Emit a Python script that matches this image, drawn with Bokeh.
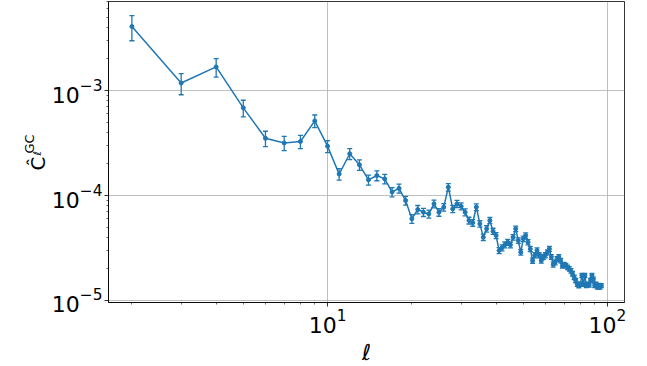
import math
from bokeh.plotting import figure
from bokeh.layouts import row
from bokeh.models import ColumnDataSource, Whisker, TeeHead, Label, FixedTicker, LogTickFormatter, Range1d
from bokeh.embed import file_html
from bokeh.resources import INLINE

# multipole ell
ells = list(range(2, 96))

# estimated C_ell^GC values
cl = [
    4.07e-3, 1.18e-3, 1.68e-3, 6.84e-4, 3.51e-4, 3.17e-4, 3.27e-4, 5.14e-4, 2.95e-4, 1.60e-4,   # 2-11
    2.50e-4, 1.96e-4, 1.41e-4, 1.55e-4, 1.44e-4, 1.08e-4, 1.17e-4, 8.96e-5, 6.00e-5, 7.36e-5,   # 12-21
    6.93e-5, 6.68e-5, 8.34e-5, 6.93e-5, 7.75e-5, 1.20e-4, 7.46e-5, 8.34e-5, 7.90e-5, 6.93e-5,   # 22-31
    5.78e-5, 5.50e-5, 7.75e-5, 5.37e-5, 4.01e-5, 4.82e-5, 5.78e-5, 4.57e-5, 4.16e-5, 2.99e-5,   # 32-41
    3.18e-5, 3.39e-5, 3.59e-5, 3.39e-5, 4.00e-5, 4.82e-5, 3.73e-5, 2.88e-5, 3.87e-5, 4.16e-5,   # 42-51
    3.59e-5, 3.10e-5, 2.40e-5, 2.70e-5, 3.00e-5, 2.70e-5, 2.40e-5, 2.60e-5, 2.70e-5, 2.88e-5,   # 52-61
    3.10e-5, 2.60e-5, 2.20e-5, 2.30e-5, 2.49e-5, 2.60e-5, 2.40e-5, 2.15e-5, 2.20e-5, 2.15e-5,   # 62-71
    2.07e-5, 2.00e-5, 1.92e-5, 1.80e-5, 1.66e-5, 1.55e-5, 1.43e-5, 1.39e-5, 1.43e-5, 1.73e-5,   # 72-81
    1.43e-5, 1.73e-5, 1.39e-5, 1.43e-5, 1.41e-5, 1.55e-5, 1.73e-5, 1.60e-5, 1.39e-5, 1.43e-5,   # 82-91
    1.34e-5, 1.39e-5, 1.34e-5, 1.39e-5,                                                         # 92-95
]

# estimated relative error-bar half-lengths
rel_err = [
    0.268, 0.227, 0.200, 0.181, 0.166, 0.155, 0.146, 0.138, 0.131, 0.125,
    0.120, 0.115, 0.111, 0.108, 0.104, 0.101, 0.099, 0.096, 0.094, 0.091,
    0.089, 0.087, 0.085, 0.084, 0.082, 0.081, 0.079, 0.078, 0.077, 0.076,
    0.074, 0.073, 0.072, 0.071, 0.070, 0.069, 0.068, 0.067, 0.067, 0.066,
    0.065, 0.064, 0.064, 0.063, 0.062, 0.061, 0.061, 0.060, 0.060, 0.059,
    0.058, 0.058, 0.057, 0.057, 0.056, 0.056, 0.055, 0.055, 0.055, 0.054,
    0.054, 0.053, 0.053, 0.052, 0.052, 0.052, 0.051, 0.051, 0.050, 0.050,
    0.050, 0.049, 0.049, 0.049, 0.048, 0.048, 0.048, 0.048, 0.047, 0.047,
    0.047, 0.046, 0.046, 0.046, 0.046, 0.045, 0.045, 0.045, 0.045, 0.044,
    0.044, 0.044, 0.044, 0.043,
]

# axis ticks
x_major = [10, 100]
x_minor = [2, 3, 4, 5, 6, 7, 8, 9, 20, 30, 40, 50, 60, 70, 80, 90]
y_major = [1e-5, 1e-4, 1e-3]
y_minor = [m * 1e-6 for m in range(2, 10)] + [m * 1e-5 for m in range(2, 10)] + \
          [m * 1e-4 for m in range(2, 10)] + [m * 1e-3 for m in range(2, 10)]

x_label = "ℓ"
y_label_main = "Ĉ"
y_label_sup = "GC"
y_label_sub = "ℓ"

BLUE = "#1f77b4"
FONT = "DejaVu Sans"
LABEL_W = 48

upper = [c * (1 + r) for c, r in zip(cl, rel_err)]
lower = [c * (1 - r) for c, r in zip(cl, rel_err)]
src = ColumnDataSource(dict(x=ells, y=cl, upper=upper, lower=lower))

p = figure(
    x_axis_type="log", y_axis_type="log",
    x_range=(1.65, 115), y_range=(9.57e-6, 7.05e-3),
    frame_width=516, frame_height=301,
    min_border_left=107 - LABEL_W, min_border_top=1, min_border_right=24, min_border_bottom=0,
    output_backend="svg", toolbar_location=None,
)
p.background_fill_color = "white"
p.border_fill_color = "white"
p.outline_line_color = "black"
p.outline_line_width = 0.8
p.outline_line_alpha = 1.0

p.xaxis.ticker = FixedTicker(ticks=x_major, minor_ticks=x_minor)
p.yaxis.ticker = FixedTicker(ticks=y_major, minor_ticks=y_minor)
p.xaxis.formatter = LogTickFormatter()
p.yaxis.formatter = LogTickFormatter()

for ax in (p.xaxis[0], p.yaxis[0]):
    ax.axis_line_color = "black"
    ax.axis_line_width = 0.8
    ax.major_tick_line_color = "black"
    ax.major_tick_line_width = 0.8
    ax.minor_tick_line_color = "black"
    ax.minor_tick_line_width = 0.6
    ax.major_tick_in = 0
    ax.major_tick_out = 4
    ax.minor_tick_in = 0
    ax.minor_tick_out = 2
    ax.major_label_text_font = FONT
    ax.major_label_text_font_size = "22px"
    ax.major_label_text_color = "black"
    ax.major_label_standoff = 2

p.xaxis.axis_label = x_label
p.xaxis.axis_label_text_font = FONT
p.xaxis.axis_label_text_font_size = "22px"
p.xaxis.axis_label_text_font_style = "italic"
p.xaxis.axis_label_text_color = "black"
p.xaxis.axis_label_standoff = 4

for g in (p.xgrid[0], p.ygrid[0]):
    g.grid_line_color = "#b0b0b0"
    g.grid_line_width = 0.8

p.line("x", "y", source=src, line_color=BLUE, line_width=1.5)
p.scatter("x", "y", source=src, size=4, color=BLUE)
w = Whisker(
    source=src, base="x", upper="upper", lower="lower",
    line_color=BLUE, line_width=1.3,
    upper_head=TeeHead(size=5, line_color=BLUE, line_width=1.3),
    lower_head=TeeHead(size=5, line_color=BLUE, line_width=1.3),
)
p.add_layout(w)

# narrow strip on the left that carries the y-axis label (rotated pieces, canvas pixels)
lab = figure(
    width=LABEL_W, height=302, x_range=Range1d(0, LABEL_W), y_range=Range1d(302, 0),
    x_axis_location=None, y_axis_location=None,
    min_border=0, min_border_left=0, min_border_right=0, min_border_top=0, min_border_bottom=0,
    output_backend="svg", toolbar_location=None,
)
lab.outline_line_color = None
lab.grid.visible = False
lab.background_fill_color = "white"
lab.border_fill_color = "white"

lab.add_layout(Label(x=37, y=170, x_units="canvas", y_units="canvas", text=y_label_main,
                     angle=math.pi / 2, text_font=FONT, text_font_size="20px",
                     text_color="black", text_align="left", text_baseline="alphabetic"))
lab.add_layout(Label(x=28.5, y=153, x_units="canvas", y_units="canvas", text=y_label_sup,
                     angle=math.pi / 2, text_font=FONT, text_font_size="13px",
                     text_color="black", text_align="left", text_baseline="alphabetic"))
lab.add_layout(Label(x=37, y=155, x_units="canvas", y_units="canvas", text=y_label_sub,
                     angle=math.pi / 2, text_font=FONT, text_font_size="11px",
                     text_font_style="italic",
                     text_color="black", text_align="left", text_baseline="alphabetic"))

layout = row(lab, p, spacing=0)
open("out.html", "w").write(file_html(layout, INLINE))
